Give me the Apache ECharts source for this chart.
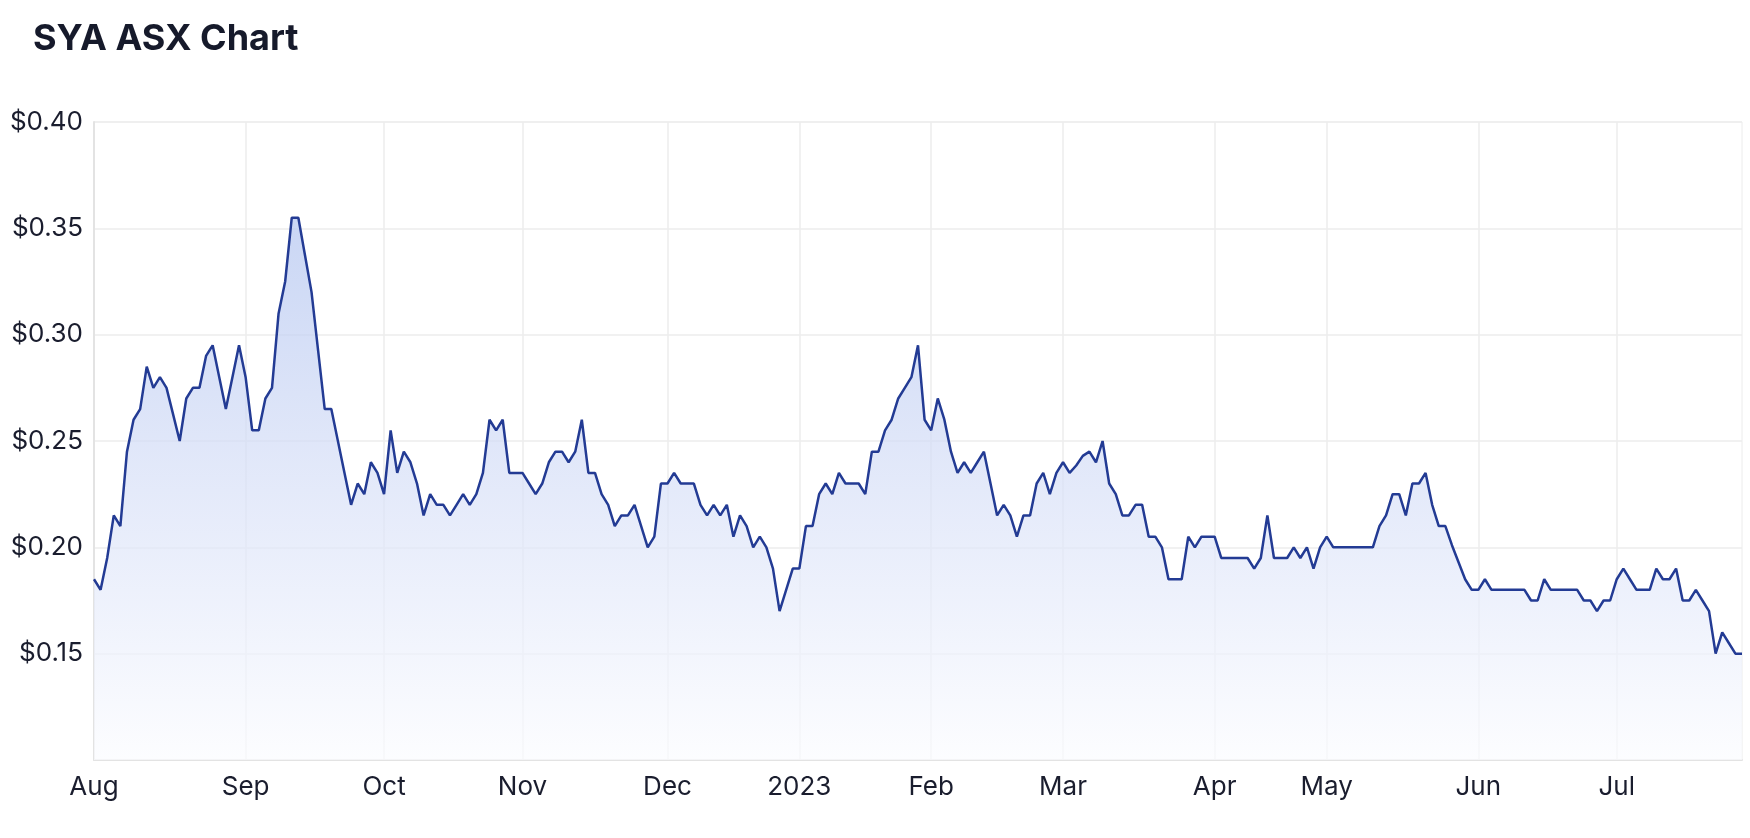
<!DOCTYPE html>
<html>
<head>
<meta charset="utf-8">
<script src="https://cdn.jsdelivr.net/npm/echarts@6/dist/echarts.min.js"></script>
<style>
  html, body { margin: 0; padding: 0; background: #ffffff; }
  #chart { width: 1750px; height: 838px; }
</style>
</head>
<body>
<div id="chart"></div>
<script>
// Closing prices per trading day, grouped by month (Aug 2022 - Jul 2023)
const aug = [0.185, 0.18, 0.195, 0.215, 0.21, 0.245, 0.26, 0.265, 0.285, 0.275, 0.28, 0.275, 0.2625, 0.25, 0.27, 0.275, 0.275, 0.29, 0.295, 0.28, 0.265, 0.28, 0.295];
const sep = [0.28, 0.255, 0.255, 0.27, 0.275, 0.31, 0.325, 0.355, 0.355, 0.3375, 0.32, 0.2925, 0.265, 0.265, 0.25, 0.235, 0.22, 0.23, 0.225, 0.24, 0.235];
const oct = [0.225, 0.255, 0.235, 0.245, 0.24, 0.23, 0.215, 0.225, 0.22, 0.22, 0.215, 0.22, 0.225, 0.22, 0.225, 0.235, 0.26, 0.255, 0.26, 0.235, 0.235];
const nov = [0.235, 0.23, 0.225, 0.23, 0.24, 0.245, 0.245, 0.24, 0.245, 0.26, 0.235, 0.235, 0.225, 0.22, 0.21, 0.215, 0.215, 0.22, 0.21, 0.20, 0.205, 0.23];
const dec = [0.23, 0.235, 0.23, 0.23, 0.23, 0.22, 0.215, 0.22, 0.215, 0.22, 0.205, 0.215, 0.21, 0.20, 0.205, 0.20, 0.19, 0.17, 0.18, 0.19];
const jan = [0.19, 0.21, 0.21, 0.225, 0.23, 0.225, 0.235, 0.23, 0.23, 0.23, 0.225, 0.245, 0.245, 0.255, 0.26, 0.27, 0.275, 0.28, 0.295, 0.26];
const feb = [0.255, 0.27, 0.26, 0.245, 0.235, 0.24, 0.235, 0.24, 0.245, 0.23, 0.215, 0.22, 0.215, 0.205, 0.215, 0.215, 0.23, 0.235, 0.225, 0.235];
const mar = [0.24, 0.235, 0.2385, 0.243, 0.245, 0.24, 0.25, 0.23, 0.225, 0.215, 0.215, 0.22, 0.22, 0.205, 0.205, 0.20, 0.185, 0.185, 0.185, 0.205, 0.20, 0.205, 0.205];
const apr = [0.205, 0.195, 0.195, 0.195, 0.195, 0.195, 0.19, 0.195, 0.215, 0.195, 0.195, 0.195, 0.20, 0.195, 0.20, 0.19, 0.20];
const may = [0.205, 0.20, 0.20, 0.20, 0.20, 0.20, 0.20, 0.20, 0.21, 0.215, 0.225, 0.225, 0.215, 0.23, 0.23, 0.235, 0.22, 0.21, 0.21, 0.201, 0.193, 0.185, 0.18];
const jun = [0.18, 0.185, 0.18, 0.18, 0.18, 0.18, 0.18, 0.18, 0.175, 0.175, 0.185, 0.18, 0.18, 0.18, 0.18, 0.18, 0.175, 0.175, 0.17, 0.175, 0.175];
const jul = [0.185, 0.19, 0.185, 0.18, 0.18, 0.18, 0.19, 0.185, 0.185, 0.19, 0.175, 0.175, 0.18, 0.175, 0.17, 0.15, 0.16, 0.155, 0.15, 0.15];

// Month tick labels (shown at first trading day of each month)
const monthLabels = ['Aug', 'Sep', 'Oct', 'Nov', 'Dec', '2023', 'Feb', 'Mar', 'Apr', 'May', 'Jun', 'Jul'];
const months = [aug, sep, oct, nov, dec, jan, feb, mar, apr, may, jun, jul];

// Y axis tick values
const yMin = 0.10, yMax = 0.40, yStep = 0.05;

const categories = [];
const values = [];
const monthStart = new Set();
months.forEach((arr, m) => {
  arr.forEach((v, d) => {
    if (d === 0) monthStart.add(categories.length);
    categories.push(monthLabels[m] + '|' + d);
    values.push(v);
  });
});

const textColor = '#1a1d2e';
const font = 'Inter, "Noto Sans", sans-serif';
const gridColor = '#ececec';

const chart = echarts.init(document.getElementById('chart'), null, { renderer: 'canvas' });
chart.setOption({
  animation: false,
  backgroundColor: '#ffffff',
  title: {
    text: 'SYA ASX Chart',
    left: 28,
    top: 16,
    textStyle: { fontSize: 36, fontWeight: 'bold', color: '#161a2b', fontFamily: font }
  },
  grid: {
    left: 94, right: 8, top: 122, bottom: 78,
    show: true, borderColor: gridColor, borderWidth: 1
  },
  xAxis: {
    type: 'category',
    data: categories,
    boundaryGap: false,
    axisLine: { show: true, lineStyle: { color: '#e3e3e3', width: 2 } },
    axisTick: { show: false },
    axisLabel: {
      interval: (idx) => monthStart.has(idx),
      formatter: (val) => val.split('|')[0],
      color: textColor,
      fontSize: 26,
      fontFamily: font,
      margin: 14
    },
    splitLine: {
      show: true,
      interval: (idx) => monthStart.has(idx),
      lineStyle: { color: gridColor, width: 1.5 }
    }
  },
  yAxis: {
    type: 'value',
    min: yMin,
    max: yMax,
    interval: yStep,
    axisLine: { show: true, lineStyle: { color: '#e3e3e3', width: 2 } },
    axisTick: { show: false },
    axisLabel: {
      formatter: (v) => (v < yMin + 0.001 ? '' : '$' + v.toFixed(2)),
      color: textColor,
      fontSize: 26,
      fontFamily: font,
      margin: 11
    },
    splitLine: { show: true, lineStyle: { color: gridColor, width: 1.5 } }
  },
  series: [{
    type: 'line',
    data: values,
    symbol: 'none',
    lineStyle: { color: '#233b94', width: 2.5 },
    areaStyle: {
      color: new echarts.graphic.LinearGradient(0, 0, 0, 1, [
        { offset: 0, color: '#b3c5f0' },
        { offset: 0.45, color: '#d5def7' },
        { offset: 1, color: '#fbfcff' }
      ])
    }
  }]
});
</script>
</body>
</html>
